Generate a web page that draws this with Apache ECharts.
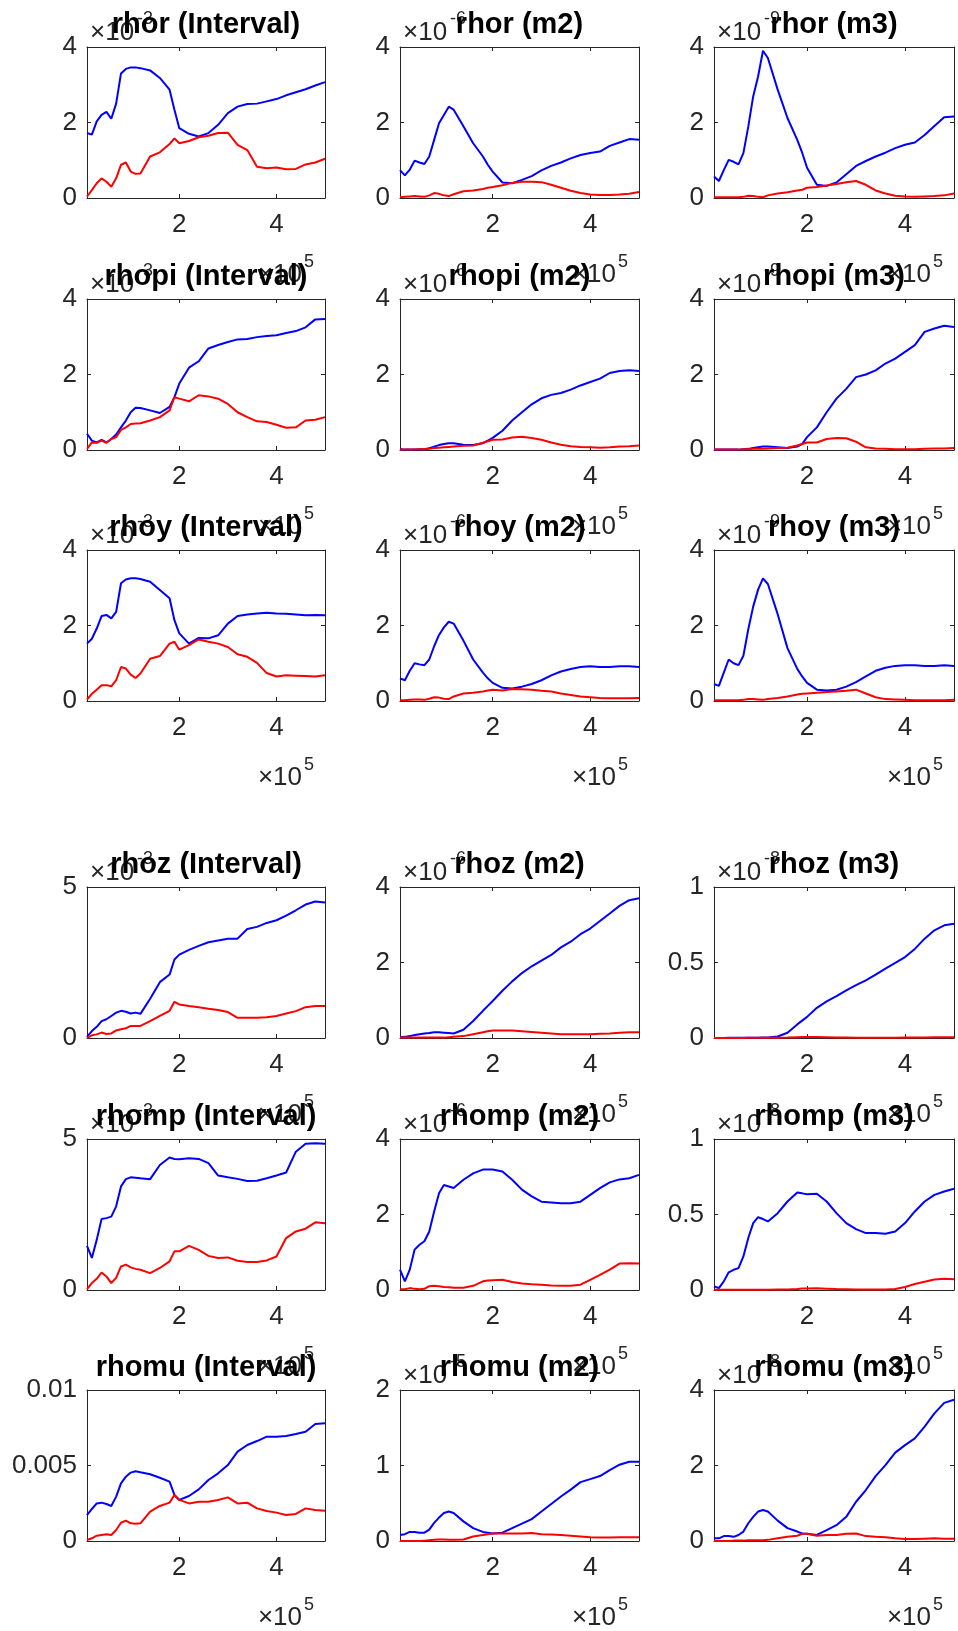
<!DOCTYPE html>
<html><head><meta charset="utf-8">
<script src="https://cdn.jsdelivr.net/npm/echarts@6/dist/echarts.min.js"></script>
<style>html,body{margin:0;padding:0;background:#fff}#c{width:958px;height:1631px}</style>
</head><body><div id="c"></div>
<script>
// x positions in units of 1e5
const X = [0.1,0.2,0.3,0.4,0.5,0.6,0.7,0.8,0.9,1.0,1.1,1.2,1.4,1.6,1.8,1.9,2.0,2.2,2.4,2.6,2.8,3.0,3.2,3.4,3.6,3.8,4.0,4.2,4.4,4.6,4.8,5.0];
const xTickValues = [2, 4];

const rhorIntBlue = [1.72,1.68,2.03,2.2,2.28,2.1,2.5,3.3,3.42,3.46,3.46,3.44,3.38,3.18,2.87,2.34,1.85,1.7,1.63,1.72,1.94,2.25,2.42,2.49,2.5,2.56,2.62,2.72,2.8,2.88,2.98,3.07];
const rhorIntRed  = [0.04,0.21,0.39,0.52,0.43,0.3,0.52,0.88,0.94,0.7,0.64,0.65,1.1,1.21,1.43,1.58,1.45,1.51,1.61,1.65,1.72,1.73,1.41,1.27,0.83,0.79,0.81,0.76,0.77,0.89,0.94,1.04];
const rhorM2Blue  = [0.74,0.6,0.75,0.99,0.94,0.9,1.1,1.54,1.98,2.2,2.42,2.34,1.9,1.45,1.1,0.88,0.7,0.41,0.39,0.48,0.58,0.73,0.85,0.94,1.05,1.14,1.19,1.23,1.38,1.47,1.56,1.54];
const rhorM2Red   = [0.02,0.03,0.04,0.05,0.04,0.03,0.07,0.13,0.11,0.07,0.05,0.1,0.18,0.2,0.24,0.27,0.29,0.34,0.4,0.43,0.43,0.42,0.35,0.27,0.19,0.13,0.09,0.08,0.08,0.09,0.11,0.16];
const rhorM3Blue  = [0.57,0.45,0.74,1.01,0.96,0.89,1.19,1.89,2.69,3.22,3.9,3.71,2.87,2.12,1.54,1.2,0.8,0.35,0.32,0.41,0.63,0.85,0.98,1.1,1.2,1.32,1.41,1.47,1.67,1.91,2.14,2.16];
const rhorM3Red   = [0.02,0.02,0.02,0.02,0.02,0.02,0.03,0.06,0.05,0.03,0.02,0.07,0.12,0.15,0.2,0.22,0.27,0.29,0.33,0.37,0.42,0.45,0.35,0.2,0.12,0.06,0.04,0.03,0.04,0.05,0.07,0.12];

const rhopiIntBlue = [0.43,0.25,0.2,0.27,0.2,0.29,0.41,0.6,0.78,1.0,1.12,1.11,1.05,0.98,1.14,1.4,1.76,2.18,2.35,2.69,2.78,2.86,2.93,2.94,2.99,3.02,3.04,3.1,3.15,3.25,3.46,3.47];
const rhopiIntRed  = [0.03,0.2,0.19,0.25,0.19,0.29,0.34,0.53,0.6,0.69,0.7,0.71,0.78,0.87,1.05,1.4,1.36,1.29,1.45,1.42,1.36,1.22,1.0,0.87,0.76,0.74,0.67,0.59,0.6,0.78,0.8,0.87];
const rhopiM2Blue  = [0.03,0.01,0.01,0.01,0.02,0.02,0.05,0.09,0.13,0.16,0.18,0.18,0.14,0.13,0.18,0.25,0.32,0.51,0.78,1.0,1.21,1.37,1.46,1.51,1.6,1.71,1.8,1.89,2.04,2.09,2.11,2.09];
const rhopiM2Red   = [0.01,0.01,0.01,0.02,0.02,0.02,0.03,0.05,0.06,0.07,0.08,0.09,0.11,0.12,0.19,0.23,0.27,0.28,0.33,0.35,0.32,0.27,0.2,0.14,0.1,0.08,0.07,0.06,0.07,0.09,0.1,0.12];
const rhopiM3Blue  = [0.01,0.01,0.01,0.01,0.01,0.01,0.02,0.03,0.05,0.07,0.09,0.09,0.07,0.05,0.09,0.16,0.34,0.6,1.0,1.36,1.62,1.93,2.0,2.11,2.29,2.42,2.6,2.78,3.13,3.22,3.29,3.26];
const rhopiM3Red   = [0.01,0.01,0.01,0.01,0.01,0.01,0.02,0.02,0.03,0.03,0.03,0.04,0.05,0.06,0.12,0.16,0.2,0.2,0.29,0.32,0.31,0.22,0.07,0.04,0.03,0.02,0.02,0.02,0.03,0.04,0.04,0.05];

const rhoyIntBlue = [1.52,1.65,1.92,2.25,2.28,2.19,2.36,3.12,3.22,3.25,3.25,3.23,3.16,2.94,2.72,2.14,1.79,1.52,1.67,1.66,1.74,2.05,2.25,2.29,2.32,2.34,2.32,2.31,2.29,2.27,2.28,2.27];
const rhoyIntRed  = [0.04,0.19,0.3,0.42,0.42,0.39,0.55,0.9,0.86,0.7,0.61,0.73,1.12,1.19,1.52,1.57,1.36,1.48,1.63,1.57,1.52,1.43,1.24,1.17,1.01,0.74,0.65,0.68,0.67,0.66,0.65,0.68];
const rhoyM2Blue  = [0.6,0.55,0.8,1.0,0.97,0.95,1.1,1.45,1.75,1.95,2.1,2.05,1.6,1.1,0.75,0.6,0.48,0.35,0.33,0.38,0.45,0.55,0.68,0.78,0.85,0.9,0.92,0.9,0.9,0.92,0.92,0.9];
const rhoyM2Red   = [0.02,0.02,0.03,0.04,0.04,0.03,0.06,0.1,0.09,0.06,0.05,0.12,0.2,0.22,0.25,0.28,0.3,0.28,0.32,0.31,0.3,0.27,0.25,0.2,0.16,0.12,0.1,0.08,0.07,0.07,0.07,0.08];
const rhoyM3Blue  = [0.45,0.4,0.75,1.1,1.0,0.95,1.2,1.9,2.5,2.95,3.25,3.1,2.3,1.4,0.85,0.65,0.48,0.3,0.28,0.3,0.38,0.5,0.65,0.8,0.88,0.93,0.95,0.95,0.93,0.93,0.95,0.93];
const rhoyM3Red   = [0.02,0.02,0.02,0.02,0.02,0.02,0.03,0.05,0.05,0.04,0.03,0.05,0.08,0.12,0.17,0.19,0.2,0.22,0.24,0.25,0.27,0.3,0.2,0.1,0.05,0.04,0.03,0.02,0.02,0.02,0.02,0.03];

const rhozIntBlue = [0.04,0.23,0.37,0.56,0.62,0.73,0.84,0.9,0.87,0.81,0.84,0.8,1.3,1.85,2.1,2.6,2.76,2.92,3.05,3.17,3.23,3.29,3.29,3.61,3.68,3.81,3.9,4.05,4.23,4.42,4.52,4.49];
const rhozIntRed  = [0.0,0.09,0.12,0.18,0.13,0.15,0.25,0.29,0.32,0.4,0.4,0.4,0.56,0.73,0.9,1.2,1.11,1.06,1.02,0.97,0.93,0.86,0.67,0.67,0.67,0.69,0.73,0.81,0.89,1.02,1.06,1.06];
const rhozM2Blue  = [0.02,0.03,0.05,0.08,0.1,0.12,0.13,0.15,0.15,0.14,0.13,0.12,0.22,0.45,0.72,0.85,0.98,1.25,1.5,1.72,1.9,2.05,2.2,2.4,2.55,2.75,2.9,3.1,3.3,3.5,3.65,3.7];
const rhozM2Red   = [0.01,0.01,0.01,0.01,0.01,0.01,0.01,0.01,0.01,0.01,0.02,0.03,0.05,0.1,0.15,0.18,0.2,0.2,0.2,0.18,0.16,0.14,0.12,0.1,0.1,0.1,0.1,0.11,0.12,0.14,0.15,0.15];
const rhozM3Blue  = [0,0,0,0.001,0.001,0.001,0.002,0.002,0.002,0.002,0.003,0.004,0.01,0.035,0.09,0.115,0.14,0.2,0.243,0.278,0.316,0.35,0.382,0.42,0.46,0.497,0.536,0.59,0.658,0.713,0.746,0.757];
const rhozM3Red   = [0,0,0,0,0,0,0,0.001,0.001,0.001,0.001,0.001,0.002,0.003,0.005,0.006,0.006,0.006,0.005,0.004,0.003,0.002,0.002,0.002,0.002,0.002,0.003,0.003,0.004,0.005,0.005,0.005];

const rhompIntBlue = [1.46,1.06,1.66,2.35,2.38,2.43,2.77,3.43,3.67,3.73,3.72,3.7,3.67,4.14,4.39,4.34,4.33,4.36,4.34,4.2,3.79,3.73,3.68,3.61,3.62,3.7,3.79,3.89,4.58,4.84,4.86,4.84];
const rhompIntRed  = [0.03,0.23,0.37,0.58,0.45,0.23,0.4,0.78,0.84,0.75,0.7,0.67,0.56,0.73,0.95,1.28,1.28,1.46,1.33,1.13,1.06,1.08,0.97,0.93,0.93,0.98,1.11,1.72,1.94,2.03,2.24,2.21];
const rhompM2Blue  = [0.54,0.23,0.54,1.07,1.2,1.29,1.55,2.08,2.56,2.78,2.74,2.7,2.92,3.09,3.19,3.19,3.19,3.14,2.92,2.66,2.48,2.34,2.32,2.3,2.3,2.34,2.52,2.7,2.85,2.93,2.96,3.05];
const rhompM2Red   = [0.02,0.02,0.05,0.03,0.02,0.03,0.1,0.11,0.1,0.08,0.07,0.06,0.06,0.11,0.23,0.25,0.26,0.27,0.21,0.17,0.15,0.14,0.12,0.11,0.11,0.14,0.27,0.4,0.54,0.7,0.71,0.7];
const rhompM3Blue  = [0.024,0.013,0.057,0.117,0.134,0.145,0.222,0.344,0.443,0.482,0.47,0.454,0.509,0.586,0.645,0.64,0.634,0.637,0.586,0.509,0.443,0.403,0.377,0.377,0.372,0.388,0.443,0.52,0.586,0.63,0.652,0.67];
const rhompM3Red   = [0.002,0.002,0.002,0.002,0.002,0.002,0.002,0.002,0.002,0.002,0.002,0.002,0.003,0.004,0.006,0.01,0.01,0.012,0.009,0.006,0.005,0.004,0.004,0.004,0.004,0.006,0.02,0.04,0.055,0.07,0.075,0.072];

const rhomuIntBlue = [0.00172,0.00212,0.00249,0.00254,0.00245,0.00232,0.00294,0.00382,0.00426,0.00453,0.00462,0.00455,0.00442,0.00419,0.00393,0.00305,0.00272,0.00298,0.00342,0.00404,0.00448,0.00503,0.00592,0.00636,0.00662,0.00691,0.00691,0.00695,0.00709,0.00724,0.00775,0.00779];
const rhomuIntRed  = [0.00007,0.00018,0.00035,0.0004,0.00044,0.0004,0.00073,0.00121,0.00135,0.00117,0.00115,0.00117,0.00194,0.00232,0.00254,0.00305,0.00272,0.00249,0.0026,0.0026,0.00272,0.00289,0.00249,0.00254,0.00216,0.00199,0.00188,0.00172,0.00179,0.00216,0.00205,0.00201];
const rhomuM2Blue  = [0.08,0.09,0.12,0.12,0.11,0.11,0.15,0.24,0.31,0.37,0.39,0.37,0.26,0.17,0.12,0.11,0.1,0.11,0.17,0.23,0.29,0.39,0.49,0.59,0.68,0.78,0.82,0.86,0.94,1.01,1.05,1.05];
const rhomuM2Red   = [0,0,0,0,0,0.005,0.01,0.015,0.02,0.02,0.018,0.015,0.02,0.06,0.08,0.09,0.1,0.1,0.1,0.1,0.105,0.09,0.085,0.08,0.07,0.06,0.05,0.045,0.045,0.05,0.05,0.05];
const rhomuM3Blue  = [0.07,0.07,0.13,0.13,0.11,0.16,0.25,0.47,0.64,0.78,0.82,0.78,0.54,0.34,0.25,0.2,0.19,0.16,0.29,0.42,0.64,1.04,1.35,1.72,2.01,2.34,2.54,2.72,3.03,3.38,3.66,3.74];
const rhomuM3Red   = [0,0,0,0,0.01,0.01,0.01,0.02,0.02,0.02,0.02,0.03,0.07,0.11,0.14,0.19,0.19,0.14,0.16,0.16,0.19,0.2,0.13,0.11,0.1,0.07,0.05,0.05,0.06,0.07,0.06,0.06];

const titles = ['rhor (Interval)','rhor (m2)','rhor (m3)','rhopi (Interval)','rhopi (m2)','rhopi (m3)',
  'rhoy (Interval)','rhoy (m2)','rhoy (m3)','rhoz (Interval)','rhoz (m2)','rhoz (m3)',
  'rhomp (Interval)','rhomp (m2)','rhomp (m3)','rhomu (Interval)','rhomu (m2)','rhomu (m3)'];
const blues = [rhorIntBlue,rhorM2Blue,rhorM3Blue,rhopiIntBlue,rhopiM2Blue,rhopiM3Blue,rhoyIntBlue,rhoyM2Blue,rhoyM3Blue,
  rhozIntBlue,rhozM2Blue,rhozM3Blue,rhompIntBlue,rhompM2Blue,rhompM3Blue,rhomuIntBlue,rhomuM2Blue,rhomuM3Blue];
const reds = [rhorIntRed,rhorM2Red,rhorM3Red,rhopiIntRed,rhopiM2Red,rhopiM3Red,rhoyIntRed,rhoyM2Red,rhoyM3Red,
  rhozIntRed,rhozM2Red,rhozM3Red,rhompIntRed,rhompM2Red,rhompM3Red,rhomuIntRed,rhomuM2Red,rhomuM3Red];
const yMaxes = [4,4,4, 4,4,4, 4,4,4, 5,4,1, 5,4,1, 0.01,2,4];
const ySteps = [2,2,2, 2,2,2, 2,2,2, 5,2,0.5, 5,2,0.5, 0.005,1,2];
const yExps  = ['-3','-6','-9', '-3','-6','-9', '-3','-6','-9', '-3','-6','-8', '-3','-6','-8', '','-5','-8'];

const colLeft = [87, 400, 714], colW = [238, 239, 240];
const rowTop = [47, 299, 550, 887, 1139, 1390], rowH = 151;
const FONT = '"Liberation Sans", Arial, Helvetica, sans-serif';
const AX = '#262626';

const grid = [], xAxis = [], yAxis = [], series = [], graphic = [];
titles.forEach((t, i) => {
  const r = Math.floor(i / 3), c = i % 3;
  const L = colLeft[c], T = rowTop[r], W = colW[c], H = rowH, R = L + W, B = T + H;
  grid.push({left: L, top: T, width: W, height: H, show: false});
  const line = {show: true, onZero: false, lineStyle: {color: AX, width: 1}};
  const xt = {show: true, inside: true, length: 4, lineStyle: {color: AX}, customValues: xTickValues};
  xAxis.push({gridIndex: i, type: 'value', min: 0.1, max: 5, position: 'bottom', axisLine: line, axisTick: xt,
    axisLabel: {customValues: xTickValues, fontSize: 26, color: AX, fontFamily: FONT, margin: 14, formatter: v => String(v)},
    splitLine: {show: false}});
  xAxis.push({gridIndex: i, type: 'value', min: 0.1, max: 5, position: 'top', axisLine: line, axisTick: xt,
    axisLabel: {show: false}, splitLine: {show: false}});
  const yt = {show: true, inside: true, length: 4, lineStyle: {color: AX}};
  yAxis.push({gridIndex: i, type: 'value', min: 0, max: yMaxes[i], interval: ySteps[i], position: 'left', axisLine: line, axisTick: yt,
    axisLabel: {fontSize: 26, color: AX, fontFamily: FONT, margin: 10, showMinLabel: true, showMaxLabel: true}, splitLine: {show: false}});
  yAxis.push({gridIndex: i, type: 'value', min: 0, max: yMaxes[i], interval: ySteps[i], position: 'right', axisLine: line, axisTick: yt,
    axisLabel: {show: false}, splitLine: {show: false}});
  series.push({type: 'line', xAxisIndex: 2 * i, yAxisIndex: 2 * i, data: X.map((x, k) => [x, blues[i][k]]),
    showSymbol: false, symbol: 'none', lineStyle: {color: '#0000ff', width: 2}, itemStyle: {color: '#0000ff'}, silent: true, z: 3});
  series.push({type: 'line', xAxisIndex: 2 * i, yAxisIndex: 2 * i, data: X.map((x, k) => [x, reds[i][k]]),
    showSymbol: false, symbol: 'none', lineStyle: {color: '#ff0000', width: 2}, itemStyle: {color: '#ff0000'}, silent: true, z: 4});
  // y exponent label
  if (yExps[i]) {
    graphic.push({type: 'text', x: L + 3, y: T - 14, z: 1, style: {text: '\u00d710', fontSize: 26, fontFamily: FONT, fill: AX,
      align: 'left', verticalAlign: 'middle', textAlign: 'left', textVerticalAlign: 'middle'}});
    graphic.push({type: 'text', x: L + 50, y: T - 28, z: 1, style: {text: yExps[i], fontSize: 18, fontFamily: FONT, fill: AX,
      align: 'left', verticalAlign: 'middle', textAlign: 'left', textVerticalAlign: 'middle'}});
  }
  // x exponent label
  graphic.push({type: 'text', x: R - 23, y: B + 77, z: 1, style: {text: '\u00d710', fontSize: 26, fontFamily: FONT, fill: AX,
    align: 'right', verticalAlign: 'middle', textAlign: 'right', textVerticalAlign: 'middle'}});
  graphic.push({type: 'text', x: R - 21, y: B + 64, z: 1, style: {text: '5', fontSize: 18, fontFamily: FONT, fill: AX,
    align: 'left', verticalAlign: 'middle', textAlign: 'left', textVerticalAlign: 'middle'}});
  // title
  graphic.push({type: 'text', x: L + W / 2, y: T - 22, z: 10, style: {text: t, fontSize: 29, fontWeight: 'bold', fontFamily: FONT, fill: '#000',
    align: 'center', verticalAlign: 'middle', textAlign: 'center', textVerticalAlign: 'middle'}});
});

const chart = echarts.init(document.getElementById('c'), null, {renderer: 'canvas'});
chart.setOption({backgroundColor: '#fff', animation: false, grid, xAxis, yAxis, series, graphic});
</script></body></html>
